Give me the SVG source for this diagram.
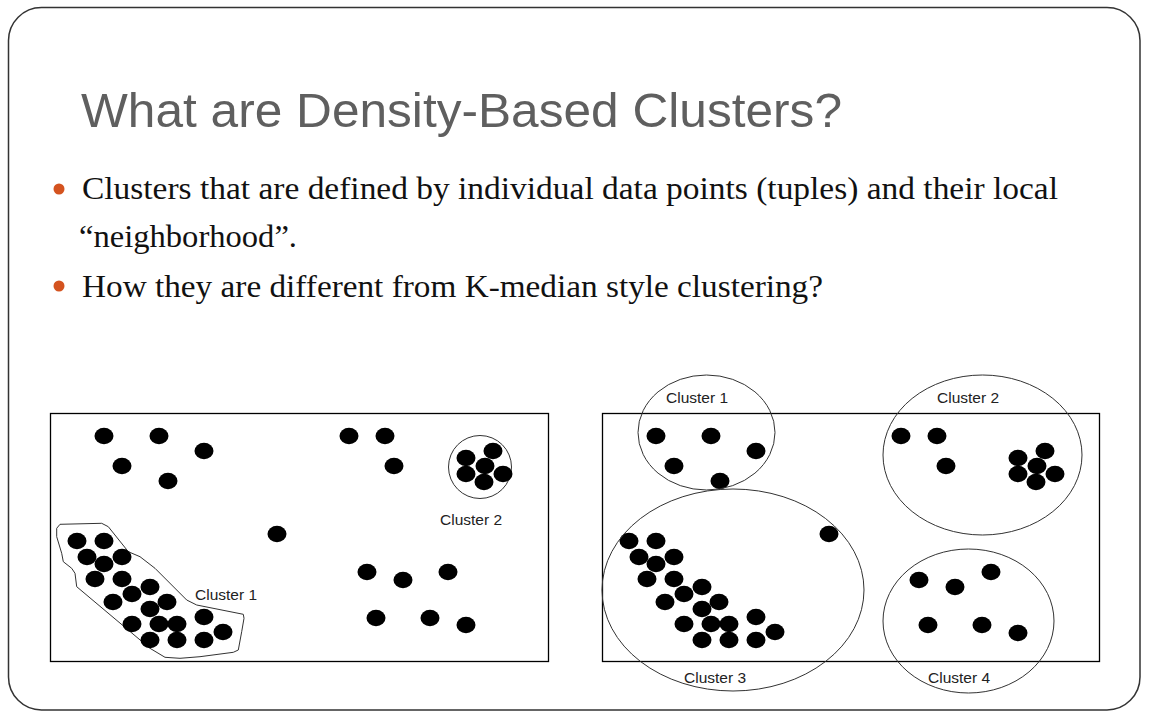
<svg xmlns="http://www.w3.org/2000/svg" width="1149" height="720" viewBox="0 0 1149 720">
<defs>
<style>
.title{font-family:"Liberation Sans",Arial,sans-serif;font-size:48px;fill:#5f5f5f}
.body{font-family:"Liberation Serif","Times New Roman",serif;font-size:31px;fill:#111}
.lbl{font-family:"Liberation Sans",Arial,sans-serif;font-size:15.5px;fill:#222}
.box{fill:#fff;stroke:#000;stroke-width:1.3}
.ring{fill:none;stroke:#333;stroke-width:1}
.dot{fill:#000}
.bul{fill:#d4531f}
</style>
<ellipse id="d" class="dot" cx="0" cy="0" rx="9.5" ry="8.3"/>
</defs>
<rect x="0" y="0" width="1149" height="720" fill="#fff"/>
<rect id="frame" x="8.5" y="7.5" width="1131.5" height="702.5" rx="33" ry="33" fill="#fff" stroke="#333" stroke-width="1.5"/>

<g id="title">
<text class="title" x="81" y="127" textLength="761" lengthAdjust="spacingAndGlyphs">What are Density-Based Clusters?</text>
</g>

<g id="bullets">
<circle class="bul" cx="59" cy="189" r="5.5"/>
<text class="body" x="82" y="199" textLength="976" lengthAdjust="spacingAndGlyphs">Clusters that are defined by individual data points (tuples) and their local</text>
<text class="body" x="79" y="247" textLength="218" lengthAdjust="spacingAndGlyphs">“neighborhood”.</text>
<circle class="bul" cx="59" cy="286" r="5.5"/>
<text class="body" x="82" y="297" textLength="741" lengthAdjust="spacingAndGlyphs">How they are different from K-median style clustering?</text>
</g>

<g id="left-plot">
<rect class="box" x="50.5" y="413.5" width="498" height="248"/>
<g id="left-cluster1">
<path class="ring" d="M60,524.3 L101.7,523.3 L108.3,526.7 L128.3,551.7 L140,556.7 L155,568.3 L186.7,600 L196.7,605 L243.3,614.3 L244,618.3 L241.7,631.7 L238.3,650 L233.3,652.3 L200,656.7 L180,658.3 L165,657.3 L150,648.3 L76.7,586.7 L75,573.3 L71.7,568.3 L63.3,561.7 L61.7,553.3 L56.7,536.7 L56.7,528.3 Z"/>
<text class="lbl" x="195" y="600">Cluster 1</text>
</g>
<g id="left-cluster2">
<circle class="ring" cx="480" cy="467" r="31.5"/>
<text class="lbl" x="440" y="525">Cluster 2</text>
</g>
<g id="left-points">
<use href="#d" x="104" y="436"/><use href="#d" x="159" y="436"/><use href="#d" x="204" y="451"/>
<use href="#d" x="122" y="466"/><use href="#d" x="168" y="481"/><use href="#d" x="277" y="534"/>
<use href="#d" x="77" y="541"/><use href="#d" x="104" y="541"/><use href="#d" x="87" y="557"/>
<use href="#d" x="122" y="557"/><use href="#d" x="104" y="564"/><use href="#d" x="95" y="579"/>
<use href="#d" x="122" y="579"/><use href="#d" x="150" y="587"/><use href="#d" x="113" y="602"/>
<use href="#d" x="132" y="594"/><use href="#d" x="167" y="602"/><use href="#d" x="150" y="609"/>
<use href="#d" x="132" y="624"/><use href="#d" x="159" y="624"/><use href="#d" x="177" y="624"/>
<use href="#d" x="204" y="617"/><use href="#d" x="150" y="640"/><use href="#d" x="177" y="640"/>
<use href="#d" x="204" y="640"/><use href="#d" x="223" y="632"/>
<use href="#d" x="349" y="436"/><use href="#d" x="385" y="436"/><use href="#d" x="394" y="466"/>
<use href="#d" x="493" y="451"/><use href="#d" x="466" y="458"/><use href="#d" x="485" y="466"/>
<use href="#d" x="466" y="474"/><use href="#d" x="503" y="474"/><use href="#d" x="484" y="482"/>
<use href="#d" x="367" y="572"/><use href="#d" x="403" y="580"/><use href="#d" x="448" y="572"/>
<use href="#d" x="376" y="618"/><use href="#d" x="430" y="618"/><use href="#d" x="466" y="625"/>
</g>
</g>

<g id="right-plot">
<rect class="box" x="602.5" y="413.5" width="497" height="248"/>
<g id="right-points">
<use href="#d" x="656" y="436"/><use href="#d" x="711" y="436"/><use href="#d" x="756" y="451"/>
<use href="#d" x="674" y="466"/><use href="#d" x="720" y="481"/><use href="#d" x="829" y="534"/>
<use href="#d" x="629" y="541"/><use href="#d" x="656" y="541"/><use href="#d" x="639" y="557"/>
<use href="#d" x="674" y="557"/><use href="#d" x="656" y="564"/><use href="#d" x="647" y="579"/>
<use href="#d" x="674" y="579"/><use href="#d" x="702" y="587"/><use href="#d" x="665" y="602"/>
<use href="#d" x="684" y="594"/><use href="#d" x="719" y="602"/><use href="#d" x="702" y="609"/>
<use href="#d" x="684" y="624"/><use href="#d" x="711" y="624"/><use href="#d" x="729" y="624"/>
<use href="#d" x="756" y="617"/><use href="#d" x="702" y="640"/><use href="#d" x="729" y="640"/>
<use href="#d" x="756" y="640"/><use href="#d" x="775" y="632"/>
<use href="#d" x="901" y="436"/><use href="#d" x="937" y="436"/><use href="#d" x="946" y="466"/>
<use href="#d" x="1045" y="451"/><use href="#d" x="1018" y="458"/><use href="#d" x="1037" y="466"/>
<use href="#d" x="1018" y="474"/><use href="#d" x="1055" y="474"/><use href="#d" x="1036" y="482"/>
<use href="#d" x="919" y="580"/><use href="#d" x="955" y="587"/><use href="#d" x="991" y="572"/>
<use href="#d" x="928" y="625"/><use href="#d" x="982" y="625"/><use href="#d" x="1018" y="633"/>
</g>
<g id="right-cluster1">
<ellipse class="ring" cx="706.5" cy="432.5" rx="68.5" ry="57.5"/>
<text class="lbl" x="666" y="403">Cluster 1</text>
</g>
<g id="right-cluster2">
<ellipse class="ring" cx="982.5" cy="455" rx="99.5" ry="80"/>
<text class="lbl" x="937" y="403">Cluster 2</text>
</g>
<g id="right-cluster3">
<ellipse class="ring" cx="733" cy="590" rx="131" ry="101"/>
<text class="lbl" x="684" y="683">Cluster 3</text>
</g>
<g id="right-cluster4">
<ellipse class="ring" cx="968.5" cy="621" rx="85.5" ry="72"/>
<text class="lbl" x="928" y="683">Cluster 4</text>
</g>
</g>
</svg>
